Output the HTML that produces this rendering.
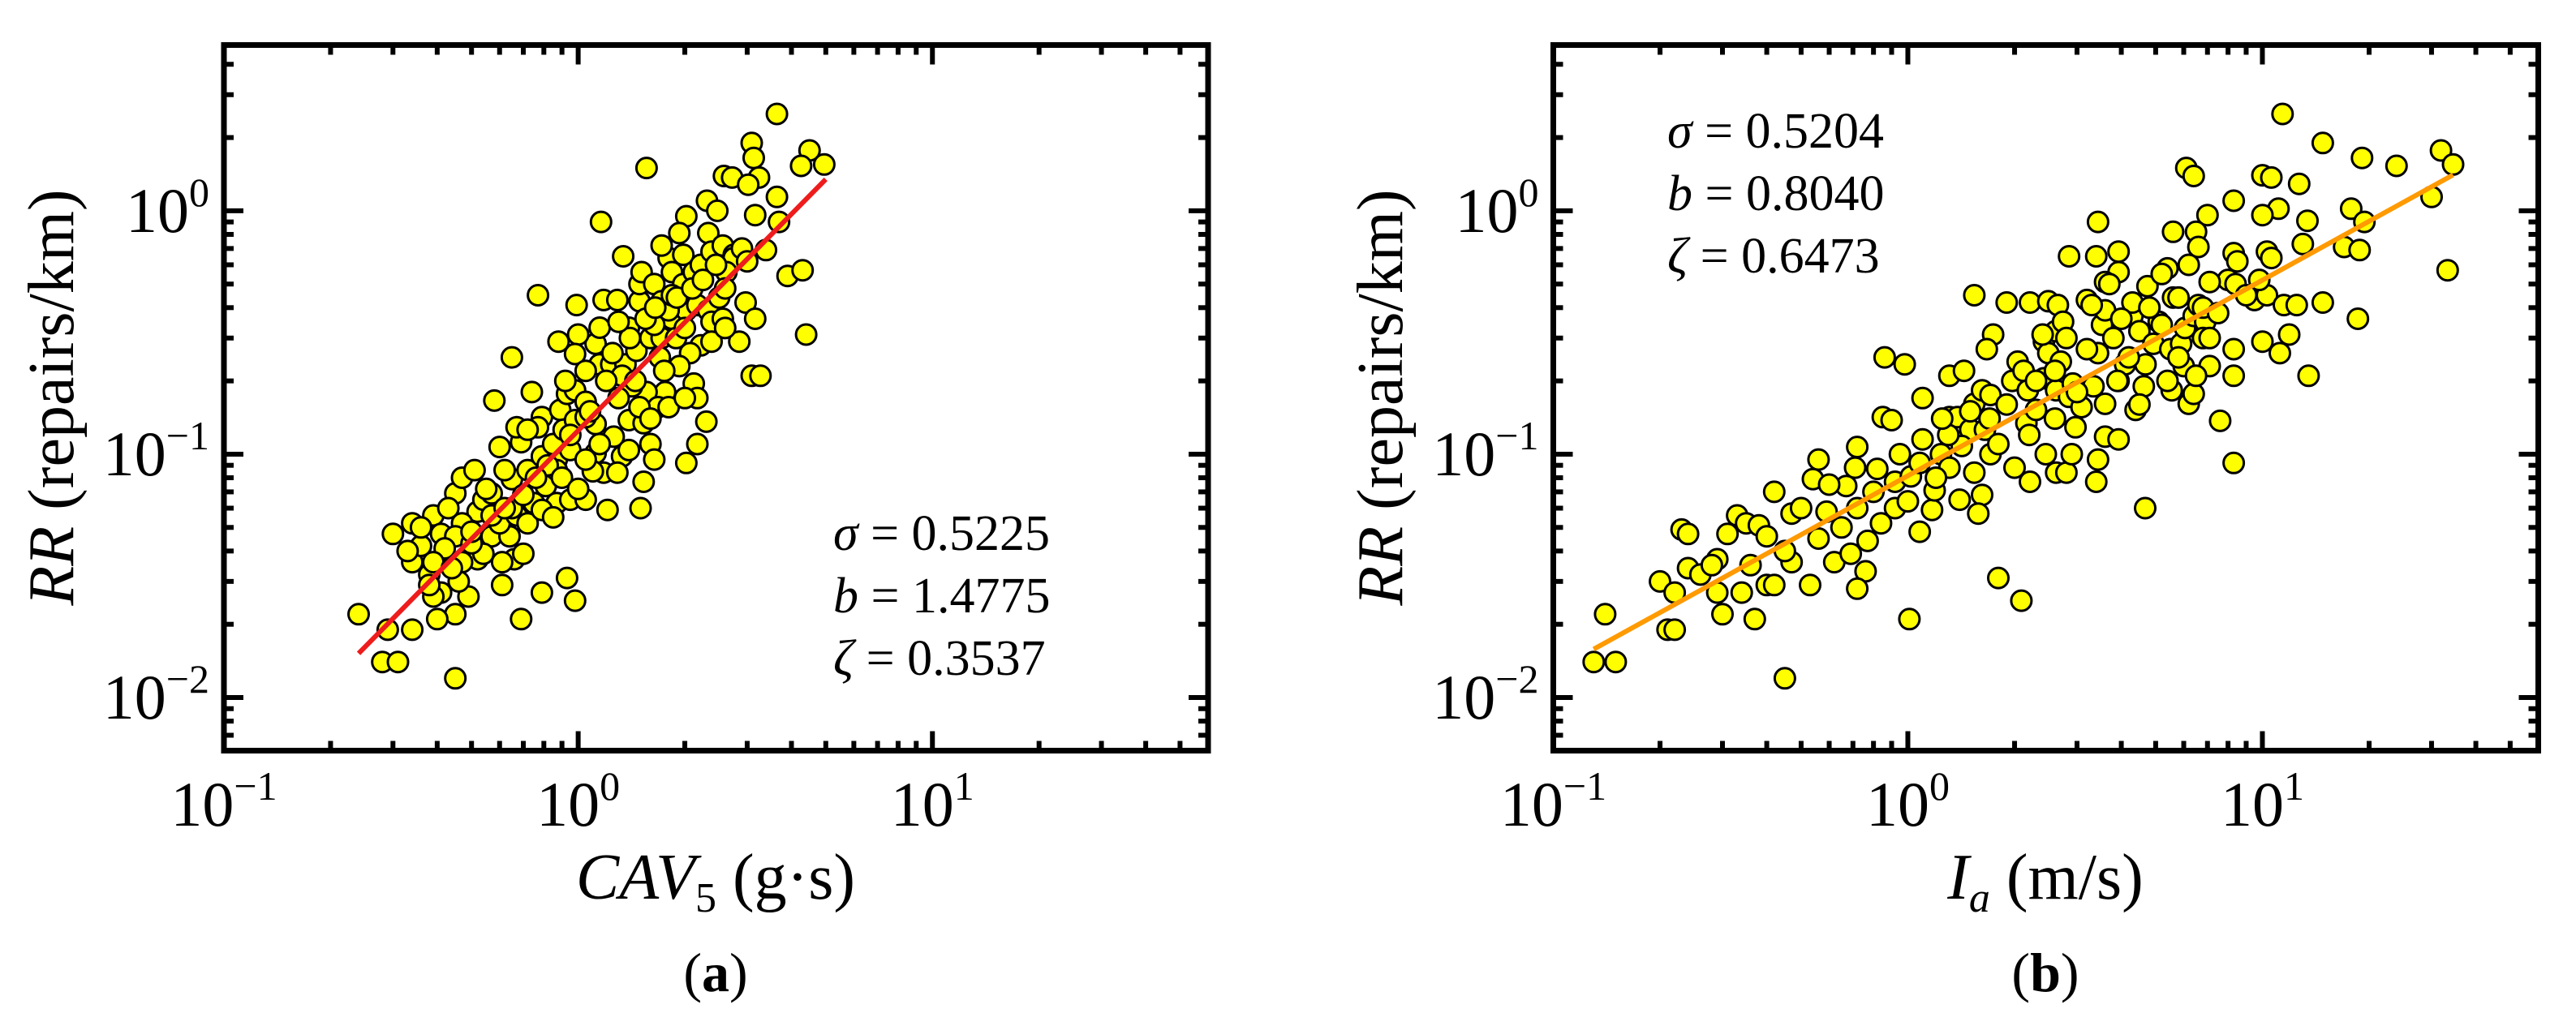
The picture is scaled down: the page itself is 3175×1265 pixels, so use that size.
<!DOCTYPE html>
<html><head><meta charset="utf-8">
<style>
html,body{margin:0;padding:0;background:#fff;}
svg{display:block;}
text{font-family:"Liberation Serif",serif;fill:#000;}
</style></head>
<body>
<svg id="chart" width="3175" height="1265" viewBox="0 0 3175 1265" xmlns="http://www.w3.org/2000/svg"></svg>
<script>
// ---- Panel (a) data: CAV5 (g·s) vs RR (repairs/km)
const cavX = [3.64,3.09,3.13,4.5,4.26,4.95,1.56,2.58,2.72,3.24,3.02,3.64,2.31,2.47,3.16,2.02,1.16,3.69,2.33,1.93,3.39,1.34,3.9,4.3,0.77,0.99,1.18,1.29,2.97,3.16,4.4,2.85,3.09,3.27,0.88,0.65,0.58,0.74,2.3,2.17,2.02,1.5,1.21,1.53,0.6,0.45,0.47,0.51,0.39,0.34,0.3,0.34,0.36,0.41,0.38,0.41,0.39,0.49,0.46,0.45,0.4,0.24,0.29,0.34,0.28,0.31,0.45,0.69,0.79,0.93,0.98,0.61,0.52,0.66,0.61,0.57,0.64,0.7,0.6,0.67,0.72,0.52,0.54,0.57,0.65,0.72,0.79,0.87,0.95,0.81,0.87,0.95,1.05,0.69,0.67,0.79,0.89,0.93,0.98,1.05,1.12,1.12,1.26,1.33,1.18,1.29,1.39,1.39,1.53,1.6,1.64,1.15,1.12,1.15,1.0,0.98,1.05,1.24,1.36,1.46,1.39,1.49,1.49,1.51,1.64,1.72,1.8,1.84,1.98,1.98,2.12,2.22,2.38,2.56,2.75,2.75,1.84,2.02,2.17,2.33,2.5,2.38,2.56,2.22,2.07,1.93,2.12,2.17,1.76,1.56,1.68,1.8,1.49,1.42,1.33,1.6,1.72,1.89,1.64,1.8,2.38,2.62,1.84,1.72,0.77,0.72,0.85,0.91,0.98,1.05,0.87,0.75,0.79,0.65,0.62,0.57,0.47,0.45,0.42,0.39,0.47,0.44,0.54,0.5,
0.82,0.9,1.0,1.1,0.95,1.08,1.2,1.3,1.45,1.25,1.4,1.55,1.65,1.7,1.9,2.0,2.1,2.25,2.45,2.6,2.9,3.0,0.55,0.62,0.7,0.76,0.85,0.5,0.43,0.36,0.33,0.38,1.05,1.15,1.6,1.75,2.0,2.6,1.3,0.92];
const cavY = [2.5,1.9,1.65,1.77,1.53,1.55,1.5,1.39,1.37,1.37,1.28,1.14,1.1,1.0,0.96,0.95,0.9,0.9,0.81,0.81,0.69,0.65,0.54,0.57,0.45,0.41,0.43,0.43,0.42,0.36,0.31,0.29,0.21,0.21,0.29,0.25,0.166,0.18,0.136,0.11,0.092,0.06,0.059,0.077,0.107,0.069,0.08,0.086,0.056,0.052,0.047,0.036,0.042,0.047,0.032,0.027,0.026,0.026,0.03,0.022,0.021,0.022,0.019,0.019,0.014,0.014,0.012,0.021,0.027,0.031,0.025,0.029,0.037,0.037,0.036,0.046,0.046,0.039,0.052,0.056,0.052,0.058,0.065,0.069,0.079,0.086,0.098,0.095,0.104,0.074,0.063,0.065,0.065,0.112,0.129,0.142,0.152,0.177,0.183,0.164,0.133,0.101,0.118,0.098,0.084,0.084,0.104,0.138,0.134,0.11,0.095,0.234,0.284,0.331,0.31,0.258,0.22,0.234,0.234,0.266,0.331,0.425,0.5,0.56,0.5,0.425,0.64,0.56,0.66,0.5,0.56,0.6,0.68,0.72,0.66,0.64,0.36,0.39,0.41,0.39,0.44,0.35,0.36,0.28,0.26,0.23,0.195,0.17,0.18,0.18,0.156,0.156,0.156,0.19,0.21,0.3,0.3,0.3,0.34,0.39,0.29,0.56,0.45,0.72,0.129,0.126,0.11,0.126,0.138,0.142,0.086,0.063,0.059,0.06,0.086,0.056,0.052,0.046,0.041,0.036,0.036,0.034,0.039,0.043,
0.09,0.08,0.072,0.085,0.12,0.15,0.2,0.17,0.2,0.26,0.3,0.36,0.4,0.25,0.44,0.33,0.48,0.52,0.6,0.48,0.7,0.62,0.072,0.06,0.068,0.08,0.055,0.048,0.06,0.05,0.04,0.029,0.095,0.11,0.14,0.22,0.17,0.33,0.35,0.2];
const fitA = {coef:[0.125,1.4775], xRange:[0.24,5.0]};
// ---- Panel (b) data: Ia (m/s) vs RR
const iaX = [11.4,14.8,19.1,23.9,31.9,34.5,6.1,6.4,10.0,10.6,12.7,30,8.3,11.1,10,17.8,13.4,19.4,3.44,7,5.6,6.5,13,17,18.8,33.3,8.3,10.3,10.6,2.85,3.93,3.4,3.93,3.6,4.74,5.6,8.0,8.4,9.5,10.3,11.5,12.5,14.8,11.9,18.6,13.5,11.2,10,8.3,8.3,7.6,8.3,4.67,1.8,2.09,1.01,0.45,0.13,0.15,0.14,0.21,0.22,0.2,0.22,0.23,0.24,0.24,0.26,0.29,0.29,0.3,0.34,0.37,0.4,0.42,0.33,0.35,0.31,0.38,0.4,0.42,0.47,0.47,0.53,0.54,0.56,0.59,0.56,0.62,0.69,0.67,0.71,0.72,0.72,0.76,0.72,0.77,0.84,0.92,0.85,0.9,0.86,0.98,0.82,0.92,1.0,1.02,1.08,1.17,1.08,1.19,1.24,1.31,1.31,1.38,1.31,1.44,1.54,1.62,1.5,1.65,1.42,1.54,1.62,1.58,1.71,1.8,1.54,1.74,1.67,1.71,1.9,2.21,1.97,2.04,2.12,2.18,2.21,2.0,2.16,2.3,2.42,2.49,2.65,2.42,2.49,2.61,2.74,2.7,2.62,2.85,2.92,2.45,2.62,2.8,2.9,2.97,3.09,3.34,3.44,3.53,3.6,3.2,3.7,4.3,4.3,4.5,3.6,3.6,3.93,3.44,3.4,3.93,4.1,4.39,4.63,4.68,4.93,5.1,5.5,5.55,5.9,6.0,6.2,6.4,6.05,6.4,6.6,6.9,6.8,7.1,7.1,6.5,6.2,5.4,5.8,5.2,7.1,6.6,
0.6,0.8,0.95,1.1,1.3,1.5,1.7,1.9,2.3,2.6,2.8,3.2,3.8,4.2,4.8,5.2,5.8,6.8,7.5,9,9.8,8.5,0.45,0.36,0.28,0.5,0.65,1.2,1.4,2.2,2.6,3.0,3.9,4.5,5.4,1.1,1.25,2.4,3.3,4.0];
const iaY = [2.5,1.9,1.65,1.53,1.77,1.55,1.5,1.39,1.4,1.37,1.29,1.14,1.1,1.02,0.96,1.02,0.91,0.9,0.9,0.96,0.82,0.82,0.73,0.71,0.69,0.57,0.67,0.68,0.64,0.65,0.68,0.65,0.56,0.51,0.49,0.44,0.52,0.5,0.43,0.45,0.41,0.41,0.42,0.31,0.36,0.21,0.26,0.29,0.27,0.21,0.137,0.092,0.06,0.031,0.025,0.021,0.012,0.014,0.014,0.022,0.019,0.019,0.03,0.027,0.049,0.047,0.034,0.032,0.037,0.027,0.022,0.027,0.021,0.029,0.029,0.056,0.052,0.047,0.051,0.046,0.07,0.057,0.036,0.029,0.079,0.095,0.058,0.045,0.036,0.039,0.074,0.088,0.107,0.06,0.033,0.028,0.044,0.052,0.06,0.142,0.138,0.25,0.234,0.087,0.077,0.064,0.081,0.048,0.059,0.092,0.071,0.1,0.088,0.142,0.142,0.21,0.22,0.161,0.183,0.126,0.126,0.108,0.084,0.068,0.057,0.1,0.11,0.45,0.31,0.27,0.175,0.42,0.42,0.2,0.24,0.22,0.183,0.077,0.088,0.134,0.152,0.205,0.425,0.41,0.29,0.26,0.32,0.35,0.24,0.183,0.172,0.195,0.1,0.084,0.084,0.1,0.129,0.156,0.19,0.26,0.34,0.39,0.43,0.5,0.37,0.42,0.32,0.161,0.118,0.115,0.095,0.077,0.2,0.234,0.152,0.19,0.234,0.284,0.35,0.27,0.183,0.284,0.23,0.161,0.177,0.33,0.37,0.41,0.35,0.3,0.3,0.23,0.21,0.6,0.58,0.44,0.55,0.51,0.71,
0.075,0.07,0.1,0.115,0.12,0.15,0.14,0.16,0.2,0.22,0.3,0.27,0.3,0.25,0.4,0.34,0.25,0.4,0.38,0.45,0.52,0.62,0.04,0.035,0.035,0.06,0.05,0.08,0.065,0.12,0.14,0.18,0.2,0.16,0.2,0.17,0.14,0.31,0.41,0.36];
const fitB = {coef:[0.0815,0.804], xRange:[0.13,34.5]};
// ---- Axis ticks
const xTickExp = [-1,0,1];
const yTickExp = [-2,-1,0];
const xDomain = [0.1,60];
const yDomain = [0.00605,4.8];

const NS = "http://www.w3.org/2000/svg";
const svg = document.getElementById('chart');
function el(tag, attrs, parent){
  const e = document.createElementNS(NS, tag);
  for (const k in attrs) e.setAttribute(k, attrs[k]);
  (parent||svg).appendChild(e);
  return e;
}
function logScale(d, r){
  const a=Math.log10(d[0]), b=Math.log10(d[1]);
  return v => r[0] + (Math.log10(v)-a)/(b-a)*(r[1]-r[0]);
}

function panel(opts){
  const L=opts.left, R=opts.right, T=55.5, B=925.5;
  const g = el('g',{});
  
  
  const sx = logScale(xDomain,[L,R]);
  const sy = logScale(yDomain,[B,T]);

  const pg = el('g',{},g);
  
  
  for (let i=0;i<opts.xs.length;i++){
    const c = el('circle',{cx:sx(opts.xs[i]).toFixed(1), cy:sy(opts.ys[i]).toFixed(1), r:12.5, fill:'#ffff00', stroke:'#000', 'stroke-width':3},pg);
    
    
  }
  const f = opts.fit;
  const y0 = f.coef[0]*Math.pow(f.xRange[0],f.coef[1]);
  const y1 = f.coef[0]*Math.pow(f.xRange[1],f.coef[1]);
  const ln = el('line',{x1:sx(f.xRange[0]),y1:sy(y0),x2:sx(f.xRange[1]),y2:sy(y1),stroke:opts.fitColor,'stroke-width':6},g);
  
  

  const tg = el('g',{stroke:'#000','stroke-width':6},g);
  
  
  for (let e=-3;e<=1;e++){
    for (let m=1;m<=9;m++){
      const v = m*Math.pow(10,e);
      const len = m===1?24:12;
      if (v>xDomain[0]*1.001 && v<xDomain[1]){
        const x=sx(v);
        el('line',{x1:x,y1:B,x2:x,y2:B-len},tg);
        el('line',{x1:x,y1:T,x2:x,y2:T+len},tg);
      }
      if (v>yDomain[0] && v<yDomain[1]){
        const y=sy(v);
        el('line',{x1:L,y1:y,x2:L+len,y2:y},tg);
        el('line',{x1:R,y1:y,x2:R-len,y2:y},tg);
      }
    }
  }
  const box = el('rect',{x:L,y:T,width:R-L,height:B-T,fill:'none',stroke:'#000','stroke-width':7},g);
  
  

  xTickExp.forEach(e=>{
    const t = el('text',{x:sx(Math.pow(10,e)),y:1018,'font-size':78,'text-anchor':'middle'},g);
    
    
    t.appendChild(document.createTextNode('10'));
    const s = el('tspan',{'font-size':50,dy:-32},t);
    s.textContent = e<0 ? '\u2212'+(-e) : String(e);
  });
  yTickExp.forEach(e=>{
    const t = el('text',{x:L-18,y:sy(Math.pow(10,e))+26,'font-size':78,'text-anchor':'end'},g);
    
    
    t.appendChild(document.createTextNode('10'));
    const s = el('tspan',{'font-size':50,dy:-32},t);
    s.textContent = e<0 ? '\u2212'+(-e) : String(e);
  });
  return g;
}

const gA = panel({name:'panel-a', left:276, right:1489, xs:cavX, ys:cavY, fit:fitA, fitColor:'#ee1c1c'});
const gB = panel({name:'panel-b', left:1914.5, right:3128.5, xs:iaX, ys:iaY, fit:fitB, fitColor:'#ff9a00'});
</script>
<div style="position:absolute;left:0;top:0;width:3175px;height:1265px;pointer-events:none">
<svg width="3175" height="1265" viewBox="0 0 3175 1265" xmlns="http://www.w3.org/2000/svg">
  <text transform="translate(90,490) rotate(-90)" text-anchor="middle" font-size="80"><tspan font-style="italic">RR</tspan> (repairs/km)</text>
  <text x="882" y="1108" text-anchor="middle" font-size="80"><tspan font-style="italic">CAV</tspan><tspan font-size="52" dy="16">5</tspan><tspan dy="-16"> (g·s)</tspan></text>
  <text x="882" y="1222" text-anchor="middle" font-size="68">(<tspan font-weight="bold">a</tspan>)</text>
  <g font-size="62">
    <text x="1027" y="678"><tspan font-style="italic">σ</tspan> = 0.5225</text>
    <text x="1027" y="755"><tspan font-style="italic">b</tspan> = 1.4775</text>
    <text x="1027" y="832"><tspan font-style="italic">ζ</tspan> = 0.3537</text>
  </g>
  <text transform="translate(1728,490) rotate(-90)" text-anchor="middle" font-size="80"><tspan font-style="italic">RR</tspan> (repairs/km)</text>
  <text x="2521" y="1108" text-anchor="middle" font-size="80"><tspan font-style="italic">I</tspan><tspan font-style="italic" font-size="52" dy="16">a</tspan><tspan dy="-16"> (m/s)</tspan></text>
  <text x="2521" y="1222" text-anchor="middle" font-size="68">(<tspan font-weight="bold">b</tspan>)</text>
  <g font-size="62">
    <text x="2055" y="182"><tspan font-style="italic">σ</tspan> = 0.5204</text>
    <text x="2055" y="259"><tspan font-style="italic">b</tspan> = 0.8040</text>
    <text x="2055" y="336"><tspan font-style="italic">ζ</tspan> = 0.6473</text>
  </g>
</svg>
</div>
</body></html>
